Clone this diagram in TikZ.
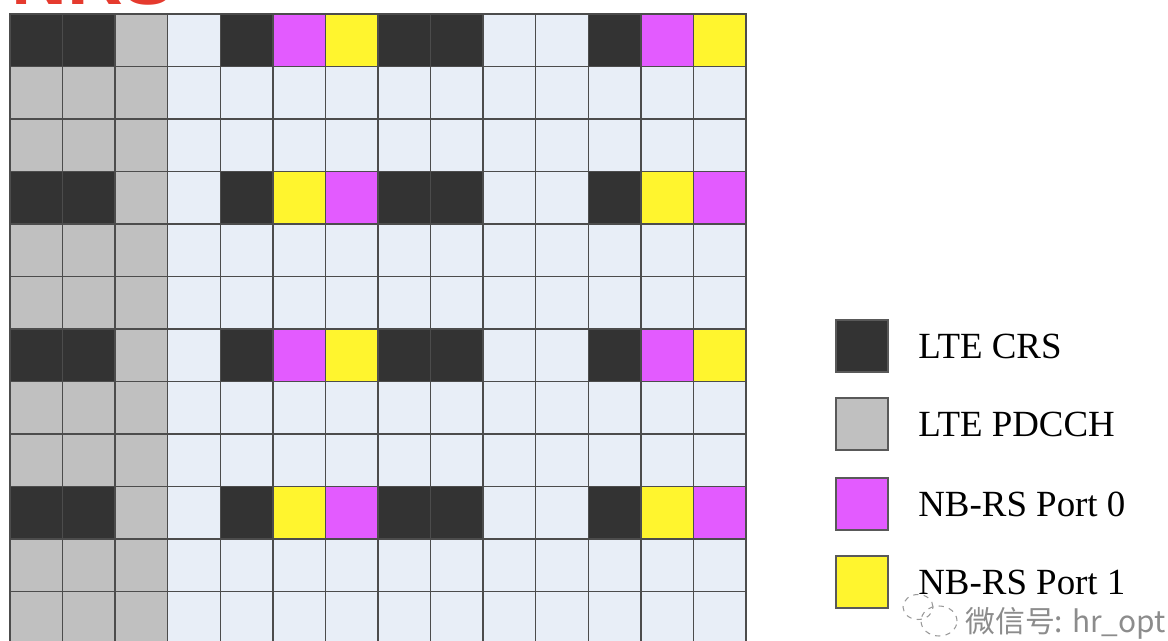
\documentclass[tikz,border=0pt]{standalone}
\usepackage{fontspec}
\setmainfont{Liberation Serif}
\newfontfamily\titlefont{Liberation Sans}
\newfontfamily\cjkfont{Noto Sans CJK SC}
\usetikzlibrary{positioning}
\definecolor{crscol}{HTML}{333333}
\definecolor{pdccol}{HTML}{C0C0C0}
\definecolor{empcol}{HTML}{E8EEF7}
\definecolor{nbzero}{HTML}{E35BFF}
\definecolor{nbone}{HTML}{FFF52E}
\definecolor{nrsred}{HTML}{E53A2E}
\tikzset{
  x=0.02cm, y=-0.02cm, % one unit is one pixel, y runs downwards
  re/.style={draw=black!70, line width=0.7pt, minimum size=1.05cm,
    inner sep=0pt, outer sep=0pt}, % one resource element of the grid
  crs/.style={re, fill=crscol},
  pdc/.style={re, fill=pdccol},
  emp/.style={re, fill=empcol},
  nb0/.style={re, fill=nbzero},
  nb1/.style={re, fill=nbone},
  keybox/.style={draw=black!65, line width=1pt, minimum size=1.04cm}, % legend squares
  keytext/.style={font=\fontsize{21}{25}\selectfont, inner sep=0pt},
}
% the three kinds of rows of the grid
\def\rowA{crs,crs,pdc,emp,crs,nb0,nb1,crs,crs,emp,emp,crs,nb0,nb1}
\def\rowB{crs,crs,pdc,emp,crs,nb1,nb0,crs,crs,emp,emp,crs,nb1,nb0}
\def\rowP{pdc,pdc,pdc,emp,emp,emp,emp,emp,emp,emp,emp,emp,emp,emp}

\begin{document}
\begin{tikzpicture}
  \useasboundingbox (0,0) rectangle (1168,641);

  \node[anchor=base west, text=nrsred, inner sep=0pt,
    font=\titlefont\bfseries\fontsize{44}{50}\selectfont] (title) at (11,5) {NRS};

  \foreach \r/\t in {0/A,1/P,2/P,3/B,4/P,5/P,6/A,7/P,8/P,9/B,10/P,11/P} {
    \edef\pat{\csname row\t\endcsname}
    \foreach \k [count=\c from 0] in \pat {
      \node[\k] (re-\r-\c) at ({36.29+52.57*\c},{40.25+52.5*\r}) {};
    }
  }

  % legend
  \node[crs, keybox] (key-crs) at (862,346) {};
  \node[pdc, keybox] (key-pdc) at (862,424) {};
  \node[nb0, keybox] (key-nb0) at (862,504) {};
  \node[nb1, keybox] (key-nb1) at (862,582) {};
  \node[keytext, right=0.6cm of key-crs] (txt-crs) {LTE CRS};
  \node[keytext, right=0.6cm of key-pdc] (txt-pdc) {LTE PDCCH};
  \node[keytext, right=0.6cm of key-nb0] (txt-nb0) {NB-RS Port 0};
  \node[keytext, right=0.6cm of key-nb1] (txt-nb1) {NB-RS Port 1};

  % watermark
  \draw[black!40, dashed, line width=0.6pt] (918,607) ellipse (0.3cm and 0.25cm);
  \draw[black!40, dashed, line width=0.6pt] (939,621) ellipse (0.36cm and 0.3cm);
  \node[anchor=base west, text=black!45, inner sep=0pt,
    font=\cjkfont\fontsize{17}{20}\selectfont] (mark) at (965,632) {微信号: hr\_opt};
\end{tikzpicture}
\end{document}
